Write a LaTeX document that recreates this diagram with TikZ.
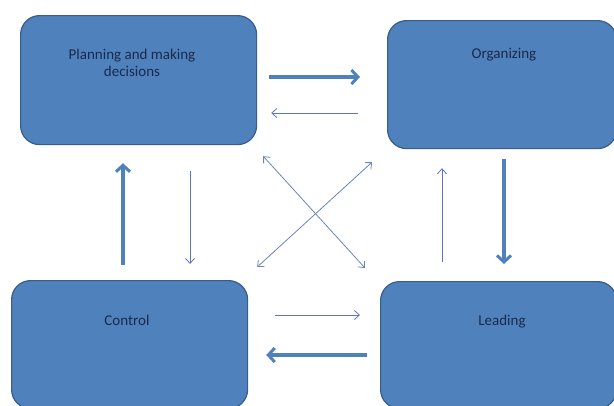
\documentclass[tikz,border=0pt]{standalone}
\usepackage{fontspec}
\setmainfont{Carlito}
\usepackage{tikz}
\usetikzlibrary{arrows.meta,positioning,calc}
\definecolor{boxfill}{HTML}{4F81BD}
\definecolor{boxline}{HTML}{385D8A}
\definecolor{ink}{HTML}{1B2A4A}
\definecolor{thin}{HTML}{5B74C4}
\definecolor{cross}{HTML}{6A84BA}

\begin{document}
\begin{tikzpicture}[x=1pt,y=-1pt,
  every node/.style={font=\fontsize{15}{17}\selectfont},
  box/.style={draw=boxline,fill=boxfill,line width=1.2pt,rounded corners=19pt,anchor=north west,inner sep=0pt},
  txt/.style={text=ink,align=center,inner sep=0pt},
  big/.style={draw=boxfill,line width=3.4pt,-{Straight Barb[length=6.5pt,width=14pt,line width=3pt]}},
  small/.style={draw=thin,line width=0.8pt,-{Straight Barb[length=5pt,width=9pt]}},
  both/.style={draw=cross,line width=0.8pt,{Straight Barb[length=5pt,width=9pt]}-{Straight Barb[length=5pt,width=9pt]}}]
  \useasboundingbox (0,0) rectangle (614,405);
  % the four boxes
  \node[box,minimum width=236pt,minimum height=129pt] (plan) at (20,15) {};
  \node[box,minimum width=229pt,minimum height=128pt] (org) at (387,20) {};
  \node[box,minimum width=236pt,minimum height=128pt] (ctrl) at (11,280) {};
  \node[box,minimum width=236pt,minimum height=127pt] (lead) at (380,281) {};
  \node[txt] (plantxt) at ($(plan.north west)+(112,48)$) {Planning and making\\decisions};
  \node[txt] (orgtxt) at ($(org.north west)+(117,35)$) {Organizing};
  \node[txt] (ctrltxt) at ($(ctrl.north west)+(116,40)$) {Control};
  \node[txt] (leadtxt) at ($(lead.north west)+(122,41)$) {Leading};
  % arrows
  \draw[big] ($(plan.north east)+(12,62)$) -- ($(org.north west)+(-27,57)$);
  \draw[small] ($(org.north west)+(-29,93)$) -- ($(plan.north east)+(14,98)$);
  \draw[big] ($(ctrl.north west)+(112,-15)$) -- ($(plan.south west)+(103,18)$);
  \draw[small] ($(plan.south west)+(170,26)$) -- ($(ctrl.north west)+(179,-16)$);
  \draw[both] ($(plan.south east)+(6,11)$) -- ($(lead.north west)+(-15,-13)$);
  \draw[both] ($(org.south west)+(-15,13)$) -- ($(ctrl.north east)+(9,-13)$);
  \draw[small] ($(lead.north west)+(62,-19)$) -- ($(org.south west)+(55,19)$);
  \draw[big] ($(org.south west)+(117,10)$) -- ($(lead.north west)+(124,-17)$);
  \draw[small] ($(ctrl.north east)+(27,35)$) -- ($(lead.north west)+(-20,34)$);
  \draw[big] ($(lead.north west)+(-13,74)$) -- ($(ctrl.north east)+(18,75)$);
\end{tikzpicture}
\end{document}
